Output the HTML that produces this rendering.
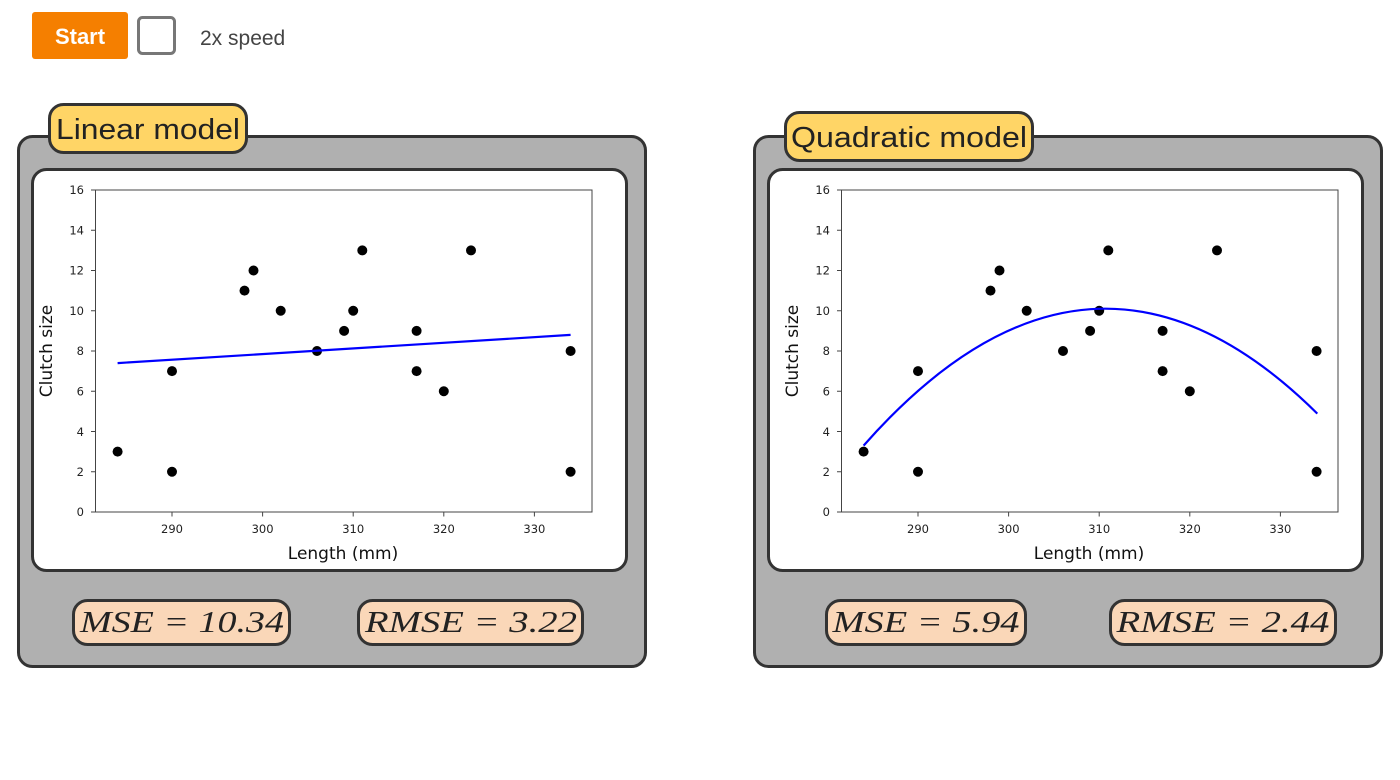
<!DOCTYPE html>
<html><head><meta charset="utf-8"><style>
html,body{margin:0;padding:0;background:#fff;width:1400px;height:780px;overflow:hidden}
svg{display:block}
.tk{font-family:"DejaVu Sans",sans-serif;font-size:11.5px;fill:#222}
.al{font-family:"DejaVu Sans",sans-serif;font-size:17px;fill:#111}
.tt{font-family:"Liberation Sans",sans-serif;font-size:29px;fill:#222}
.ms{font-family:"Liberation Serif","DejaVu Serif",serif;font-size:31px;font-style:italic;fill:#222}
</style></head><body>
<svg width="1400" height="780" viewBox="0 0 1400 780" xmlns="http://www.w3.org/2000/svg">
<defs>
<g id="plot">
  <rect x="95.5" y="190" width="496.5" height="322" fill="#fff" stroke="#444" stroke-width="1"/>
  <g stroke="#444" stroke-width="1">
    <line x1="91" y1="512" x2="95.5" y2="512"/><line x1="91" y1="471.75" x2="95.5" y2="471.75"/>
    <line x1="91" y1="431.5" x2="95.5" y2="431.5"/><line x1="91" y1="391.25" x2="95.5" y2="391.25"/>
    <line x1="91" y1="351" x2="95.5" y2="351"/><line x1="91" y1="310.75" x2="95.5" y2="310.75"/>
    <line x1="91" y1="270.5" x2="95.5" y2="270.5"/><line x1="91" y1="230.25" x2="95.5" y2="230.25"/>
    <line x1="91" y1="190" x2="95.5" y2="190"/>
    <line x1="172" y1="512" x2="172" y2="516.5"/><line x1="262.6" y1="512" x2="262.6" y2="516.5"/>
    <line x1="353.2" y1="512" x2="353.2" y2="516.5"/><line x1="443.8" y1="512" x2="443.8" y2="516.5"/>
    <line x1="534.4" y1="512" x2="534.4" y2="516.5"/>
  </g>
  <g class="tk" text-anchor="end">
    <text x="84" y="516">0</text><text x="84" y="476">2</text><text x="84" y="436">4</text>
    <text x="84" y="395.5">6</text><text x="84" y="355">8</text><text x="84" y="315">10</text>
    <text x="84" y="274.5">12</text><text x="84" y="234.5">14</text><text x="84" y="194">16</text>
  </g>
  <g class="tk" text-anchor="middle">
    <text x="172" y="533">290</text><text x="262.6" y="533">300</text><text x="353.2" y="533">310</text>
    <text x="443.8" y="533">320</text><text x="534.4" y="533">330</text>
  </g>
  <text class="al" x="343" y="559" text-anchor="middle">Length (mm)</text>
  <text class="al" x="52" y="351" text-anchor="middle" transform="rotate(-90 52 351)">Clutch size</text>
  <g fill="#000">
    <circle cx="117.6" cy="451.6" r="5"/><circle cx="172" cy="371.1" r="5"/><circle cx="172" cy="471.75" r="5"/>
    <circle cx="244.5" cy="290.6" r="5"/><circle cx="253.5" cy="270.5" r="5"/><circle cx="280.7" cy="310.75" r="5"/>
    <circle cx="317" cy="351" r="5"/><circle cx="344.1" cy="330.9" r="5"/><circle cx="353.2" cy="310.75" r="5"/>
    <circle cx="362.3" cy="250.4" r="5"/><circle cx="416.6" cy="330.9" r="5"/><circle cx="416.6" cy="371.1" r="5"/>
    <circle cx="443.8" cy="391.25" r="5"/><circle cx="471" cy="250.4" r="5"/><circle cx="570.6" cy="351" r="5"/>
    <circle cx="570.6" cy="471.75" r="5"/>
  </g>
</g>
</defs>

<!-- top controls -->
<rect x="32" y="12" width="96" height="47" rx="3" fill="#f57f00"/>
<text x="80" y="44" text-anchor="middle" font-family="Liberation Sans,sans-serif" font-size="22" font-weight="bold" fill="#fff">Start</text>
<rect x="138.5" y="17.5" width="36" height="36" rx="4" fill="#fff" stroke="#777" stroke-width="3"/>
<text x="200" y="45" font-family="Liberation Sans,sans-serif" font-size="21" fill="#444">2x speed</text>

<!-- left panel -->
<rect x="18.5" y="136.5" width="627" height="530" rx="14" fill="#b0b0b0" stroke="#333" stroke-width="3"/>
<rect x="32.5" y="169.5" width="594" height="401" rx="14" fill="#fff" stroke="#333" stroke-width="3"/>
<use href="#plot"/>
<polyline points="117.6,363.1 570.6,334.9" fill="none" stroke="#0000ff" stroke-width="2.2"/>
<rect x="49.5" y="104.5" width="197" height="48" rx="14" fill="#ffd566" stroke="#333" stroke-width="3"/>
<text class="tt" x="148" y="139" text-anchor="middle" textLength="184" lengthAdjust="spacingAndGlyphs">Linear model</text>
<rect x="73.5" y="600.5" width="216" height="44" rx="14" fill="#fad7b8" stroke="#333" stroke-width="3"/>
<text class="ms" x="182" y="632" text-anchor="middle" textLength="204" lengthAdjust="spacingAndGlyphs">MSE = 10.34</text>
<rect x="358.5" y="600.5" width="224" height="44" rx="14" fill="#fad7b8" stroke="#333" stroke-width="3"/>
<text class="ms" x="471" y="632" text-anchor="middle" textLength="212" lengthAdjust="spacingAndGlyphs">RMSE = 3.22</text>

<!-- right panel -->
<rect x="754.5" y="136.5" width="627" height="530" rx="14" fill="#b0b0b0" stroke="#333" stroke-width="3"/>
<rect x="768.5" y="169.5" width="594" height="401" rx="14" fill="#fff" stroke="#333" stroke-width="3"/>
<g transform="translate(746,0)"><use href="#plot"/></g>
<path d="M863.6,445.6 Q1090.4,188.8 1317.3,413.6" fill="none" stroke="#0000ff" stroke-width="2.2"/>
<rect x="785.5" y="112.5" width="247" height="48" rx="14" fill="#ffd566" stroke="#333" stroke-width="3"/>
<text class="tt" x="909" y="147" text-anchor="middle" textLength="236" lengthAdjust="spacingAndGlyphs">Quadratic model</text>
<rect x="826.5" y="600.5" width="199" height="44" rx="14" fill="#fad7b8" stroke="#333" stroke-width="3"/>
<text class="ms" x="926" y="632" text-anchor="middle" textLength="187" lengthAdjust="spacingAndGlyphs">MSE = 5.94</text>
<rect x="1110.5" y="600.5" width="225" height="44" rx="14" fill="#fad7b8" stroke="#333" stroke-width="3"/>
<text class="ms" x="1223" y="632" text-anchor="middle" textLength="213" lengthAdjust="spacingAndGlyphs">RMSE = 2.44</text>
</svg>
</body></html>
